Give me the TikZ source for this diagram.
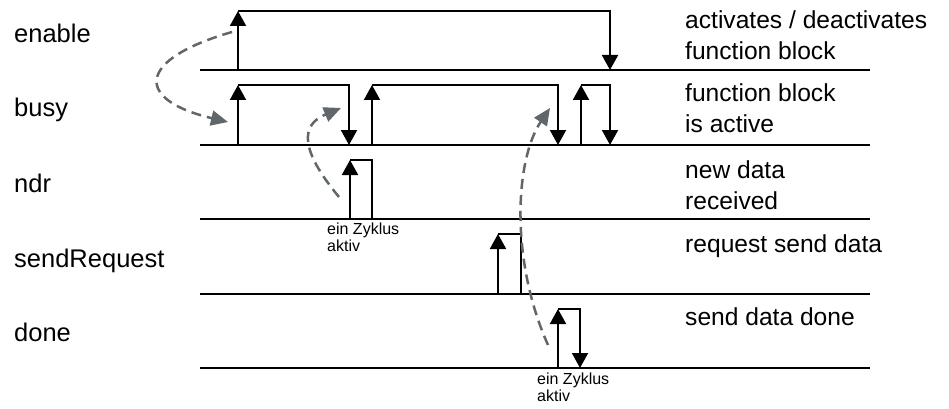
\documentclass[tikz,border=0pt]{standalone}
\usepackage{fontspec}
\setmainfont{Liberation Sans}
\usepackage{xcolor}
\usetikzlibrary{arrows.meta}

\definecolor{linkgray}{RGB}{95,103,107}
\tikzset{
  sig/.style={line width=2pt, black},
  edge/.style={sig, -{Triangle[width=16pt,length=15pt]}},
  link/.style={line width=2.5pt, dash pattern=on 10pt off 6pt, color=linkgray,
    -{Triangle[width=15pt,length=17pt]}},
  lbl/.style={anchor=base west, inner sep=0pt, font=\fontsize{24.6}{31}\selectfont, align=left},
  signame/.style={lbl, font=\fontsize{25.5}{31}\selectfont},
  note/.style={anchor=base west, inner sep=0pt, font=\fontsize{16}{17}\selectfont, align=left}
}

\begin{document}
\begin{tikzpicture}[x=1pt,y=-1pt]
\useasboundingbox (0,0) rectangle (949,409);

\foreach \y in {70,145,219,294,368}
  \draw[sig] (200,\y)--(870,\y);

% enable
\draw[edge] (238,70)--(238,11);
\draw[edge] (238,11)--(610,11)--(610,70);

% busy
\draw[edge] (238,145)--(238,85);
\draw[edge] (238,85)--(349,85)--(349,145);
\draw[edge] (372,145)--(372,85);
\draw[edge] (372,85)--(558,85)--(558,145);
\draw[edge] (581,145)--(581,85);
\draw[edge] (581,85)--(610,85)--(610,145);

% ndr
\draw[edge] (350,219)--(350,160);
\draw[sig] (350,160)--(372,160)--(372,219);

% sendRequest
\draw[edge] (498,294)--(498,234);
\draw[sig] (498,234)--(521,234)--(521,294);

% done
\draw[edge] (558,368)--(558,309);
\draw[edge] (558,309)--(580,309)--(580,368);

\node[signame] (enable) at (14,43) {enable};
\node[signame] (busy) at (14,117) {busy};
\node[signame] (ndr) at (14,192) {ndr};
\node[signame] (sendRequest) at (14,267) {sendRequest};
\node[signame] (done) at (14,341) {done};

% multi-line nodes sit on their last line
\node[lbl] (enableTxt) at (685,60) {activates / deactivates\\function block};
\node[lbl] (busyTxt) at (685,132) {function block\\is active};
\node[lbl] (ndrTxt) at (685,209) {new data\\received};
\node[lbl] (sendTxt) at (685,252) {request send data};
\node[lbl] (doneTxt) at (685,325) {send data done};

\node[note] (ndrCycle) at (327,251) {ein Zyklus\\aktiv};
\node[note] (doneCycle) at (537,401) {ein Zyklus\\aktiv};

\coordinate (enRise) at (232,32);
\coordinate (busyRise) at (228,122);
\coordinate (ndrRise) at (339,197);
\coordinate (busyFall) at (341,108);
\coordinate (doneRise) at (548,345);
\coordinate (busyFall2) at (550,108);

\draw[link] (enRise) .. controls (135,60) and (135,100) .. (busyRise);
\draw[link] (ndrRise) .. controls (300,150) and (300,125) .. (busyFall);
\draw[link] (doneRise) .. controls (510,260) and (515,160) .. (busyFall2);
\end{tikzpicture}
\end{document}
